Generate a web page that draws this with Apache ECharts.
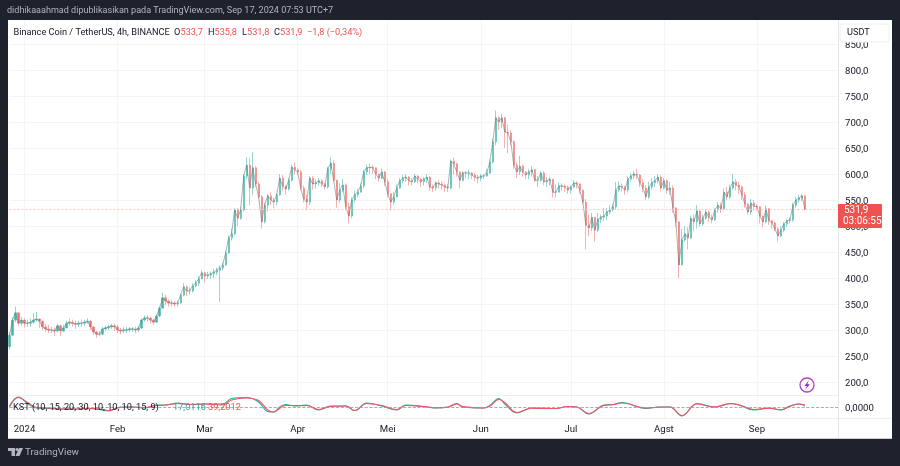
<!DOCTYPE html>
<html><head><meta charset="utf-8">
<style>html,body{margin:0;padding:0;background:#1e222d}#c{width:900px;height:466px;filter:blur(0.3px)}</style>
<script src="https://cdn.jsdelivr.net/npm/echarts@6/dist/echarts.min.js"></script>
</head><body><div id="c"></div>
<script>
const firstOpen = 268;
const closes = [
290,319,333,313,319,313,313,315,319,321,
317,306,302,300,300,298,308,298,304,313,
315,313,311,313,313,315,317,306,296,292,
292,302,304,306,308,306,300,298,300,300,
302,302,300,304,319,323,323,319,315,327,
342,362,356,352,352,350,352,367,383,375,
375,385,390,398,410,404,406,408,411,415,
419,425,448,477,485,531,515,531,596,617,
573,612,581,556,508,540,558,550,546,560,
592,577,571,588,613,608,604,573,552,546,
592,581,583,587,581,575,610,621,588,550,
569,579,537,519,550,560,565,577,604,612,
613,612,600,592,604,585,562,546,556,573,
587,592,594,587,585,596,590,585,590,594,
575,573,583,581,579,575,573,625,619,604,
588,602,602,602,598,594,592,596,596,602,
623,662,708,700,708,681,679,662,617,604,
615,604,598,604,608,588,588,602,585,587,
590,565,565,577,577,575,569,575,583,581,
569,546,502,496,517,492,513,517,519,527,
531,537,569,577,575,569,590,596,600,598,
583,573,556,575,583,587,594,573,587,569,
573,535,508,425,473,485,477,515,508,529,
504,515,527,517,512,531,540,533,565,556,
573,585,579,575,560,542,527,544,538,537,
519,508,533,510,506,494,481,492,504,510,
512,540,550,554,558,531.9];
const highs = [
295,325,345,330,325,322,320,322,333,335,
323,318,312,310,306,305,312,310,310,318,
322,320,318,318,320,320,323,320,308,298,
298,306,308,310,312,312,310,304,306,306,
306,306,306,308,322,328,328,326,322,330,
345,372,368,358,358,356,356,370,390,386,
382,390,396,403,415,412,412,413,418,420,
424,430,452,482,495,535,535,537,600,632,
630,642,615,585,560,545,562,565,555,563,
600,598,578,592,618,622,612,608,578,560,
596,596,590,592,590,583,614,632,626,575,
582,590,582,545,555,568,572,582,608,618,
620,618,612,600,610,606,590,560,565,580,
592,598,600,596,592,600,598,592,594,600,
596,580,586,588,586,582,580,628,632,622,
606,606,606,608,604,602,598,600,600,610,
628,668,722,712,716,710,695,684,665,622,
635,618,606,610,615,610,596,606,606,594,
595,590,580,584,582,580,578,578,588,586,
582,570,552,522,525,510,525,522,535,535,
540,542,585,586,582,578,595,602,606,610,
600,590,578,585,592,596,600,598,592,590,
585,578,512,470,495,500,498,520,522,540,
530,522,532,530,522,535,546,545,572,575,
580,600,590,585,578,565,545,552,550,542,
535,520,540,535,512,508,498,500,508,514,
516,545,556,560,562,560];
const lows = [
262,288,315,308,308,305,306,306,312,316,
304,300,296,294,294,288,296,288,296,304,
308,306,302,306,306,308,312,300,290,285,
288,290,298,300,302,298,294,292,294,294,
296,296,294,296,302,316,316,312,310,314,
325,342,348,345,345,345,345,350,365,365,
368,372,382,385,398,392,398,398,400,405,
354,415,424,446,472,482,500,512,528,590,
540,560,575,552,495,505,528,540,535,540,
558,568,560,568,585,598,598,568,545,530,
540,570,572,578,575,570,572,600,585,535,
545,565,530,505,515,545,555,565,572,598,
600,600,590,585,590,578,555,530,542,555,
572,582,585,578,578,582,582,575,578,582,
568,565,568,572,570,566,565,570,598,595,
572,585,592,590,590,586,582,586,590,595,
600,620,655,685,688,650,640,655,610,592,
598,595,590,590,595,585,575,585,578,575,
578,555,555,565,568,566,562,562,572,572,
562,542,455,480,490,470,488,505,510,512,
522,528,532,565,566,560,565,585,590,590,
575,565,550,552,570,575,582,568,570,562,
560,525,498,400,425,470,455,475,490,495,
498,500,512,508,505,510,525,525,530,550,
552,570,568,562,550,535,522,522,530,530,
505,498,505,502,495,490,470,478,488,498,
505,508,535,545,548,530];
const kstDays = [0,3,6,9,13,17,22,27,30,33,37,41,45,49,52,56,60,65,71,74,79,83,86,88,90,92,95,97,99,103,107,112,115,119,124,129,132,139,142,146,149,151,158,160,163,165,169,174,182,186,189,193,198,201,204,212,216,220,224,229,235,240,243,248,253,257,260,263,265];
const kstValues = [20,200,70,-20,-30,-40,-40,-30,-50,-80,0,0,-20,40,40,80,50,60,60,170,190,100,-90,-100,0,50,20,30,40,-60,20,20,-70,80,20,-60,40,0,-20,0,70,0,-20,30,170,60,-120,-20,-30,10,0,-140,40,50,90,-30,0,0,-180,70,0,70,40,-60,-20,-60,20,60,17.0116];
const signalValues = [0,190,90,-10,-20,-40,-40,-30,-40,-70,-10,0,-10,30,40,70,50,60,40,140,180,130,-60,-100,-30,30,30,25,30,-50,10,20,-70,70,30,-50,30,5,-15,-5,60,10,-20,15,150,90,-110,-25,-30,10,0,-130,30,45,80,-20,-5,0,-170,60,0,65,45,-50,-25,-55,15,60,39.2012];
const priceTicks = [200,250,300,350,400,450,500,550,600,650,700,750,800,850];
const monthDates = ['2024-01-01','2024-02-01','2024-03-01','2024-04-01','2024-05-01','2024-06-01','2024-07-01','2024-08-01','2024-09-01'];
const monthLabels = ['2024','Feb','Mar','Apr','Mei','Jun','Jul','Agst','Sep'];
const lastPrice = 531.9;

const categories = [];
for (let t = Date.UTC(2023,11,27), n = 0; n < 277; n++, t += 86400000) categories.push(new Date(t).toISOString().slice(0,10));
const candles = closes.map((c,i)=>[i===0?firstOpen:closes[i-1], c, lows[i], highs[i]]);
const FONT = 'Roboto, "Noto Sans", sans-serif';
const isMonth = (i,v)=>monthDates.includes(v);
const grid1 = {left:9.5,top:20,width:828.5,height:375};
const grid2 = {left:9.5,top:395,width:828.5,height:23};
const comma = (v,d)=>v.toFixed(d).replace('.',',');
const faint = '#f2f4f9';
const txt = (x,y,text,fill,extra)=>({type:'text',x,y,z:100,style:Object.assign({text,fill,font:'9.2px '+FONT,textVerticalAlign:'middle'},extra||{})});

const chart = echarts.init(document.getElementById('c'),null,{renderer:'canvas'});
chart.setOption({
  animation:false,
  backgroundColor:'#1e222d',
  grid:[grid1,grid2],
  xAxis:[
    {type:'category',gridIndex:0,data:categories,boundaryGap:false,axisLine:{show:false},axisTick:{show:false},axisLabel:{show:false},
     splitLine:{show:true,interval:isMonth,lineStyle:{color:faint,width:1}}},
    {type:'category',gridIndex:1,data:categories,boundaryGap:false,axisLine:{show:false},axisTick:{show:false},
     axisLabel:{show:true,interval:isMonth,formatter:v=>monthLabels[monthDates.indexOf(v)],color:'#131722',fontFamily:FONT,fontSize:9.6,margin:7,
       hideOverlap:false},
     splitLine:{show:true,interval:isMonth,lineStyle:{color:faint,width:1}}}
  ],
  yAxis:[
    {type:'value',gridIndex:0,position:'right',min:175,max:896.15,axisLine:{show:false},axisTick:{show:false,customValues:priceTicks},
     axisLabel:{customValues:priceTicks,formatter:v=>comma(v,1),color:'#131722',fontFamily:FONT,fontSize:9.6,margin:7,verticalAlign:'top',lineHeight:3},
     splitLine:{show:true,lineStyle:{color:faint,width:1}}},
    {type:'value',gridIndex:1,position:'right',min:-220,max:240,axisLine:{show:false},axisTick:{show:false,customValues:[0]},
     axisLabel:{customValues:[0],formatter:v=>comma(v,4),color:'#131722',fontFamily:FONT,fontSize:9.6,margin:7,verticalAlign:'top',lineHeight:3},
     splitLine:{show:false}}
  ],
  series:[
    {type:'candlestick',xAxisIndex:0,yAxisIndex:0,data:candles,barWidth:1.7,clip:true,
     itemStyle:{color:'#26a69a',color0:'#ef5350',borderColor:'#4fb8ae',borderColor0:'#f37f7c',borderWidth:0.7,opacity:0.85},
     markLine:{silent:true,symbol:'none',label:{show:false},animation:false,
       lineStyle:{color:'#f9c6c4',type:[2,2],width:1,opacity:1},data:[{yAxis:lastPrice}]}},
    {type:'line',name:'close',xAxisIndex:0,yAxisIndex:0,data:closes,showSymbol:false,z:3,
     lineStyle:{color:'#6f7f82',width:0.8,opacity:0.75}},
    {type:'line',xAxisIndex:1,yAxisIndex:1,data:kstDays.map((d,i)=>[d,kstValues[i]]),smooth:0.4,showSymbol:false,
     lineStyle:{color:'#26a69a',width:1.1},
     markLine:{silent:true,symbol:'none',label:{show:false},animation:false,
       lineStyle:{color:'#9598a1',type:'dashed',width:0.8},data:[{yAxis:0}]}},
    {type:'line',xAxisIndex:1,yAxisIndex:1,data:kstDays.map((d,i)=>[d,signalValues[i]]),smooth:0.4,showSymbol:false,
     lineStyle:{color:'#f7525f',width:1.1}}
  ],
  graphic:{elements:[
    {type:'rect',z:-10,shape:{x:8,y:20,width:884,height:418},style:{fill:'#ffffff'}},
    {type:'line',z:1,shape:{x1:8,y1:438.5,x2:892,y2:438.5},style:{stroke:'#c9ccd3',lineWidth:1}},
    {type:'line',z:1,shape:{x1:8,y1:395.5,x2:838,y2:395.5},style:{stroke:'#eceef3',lineWidth:1}},
    {type:'line',z:1,shape:{x1:8,y1:418.5,x2:892,y2:418.5},style:{stroke:'#eceef3',lineWidth:1}},
    {type:'line',z:1,shape:{x1:838.5,y1:20,x2:838.5,y2:438},style:{stroke:'#e4e6ec',lineWidth:1}},
    txt(7,11,'didhikaaahmad dipublikasikan pada TradingView.com, Sep 17, 2024 07:53 UTC+7','#b2b5be',{font:'9.05px '+FONT}),
    txt(13.5,32.5,'Binance Coin / TetherUS, 4h, BINANCE','#131722'),
    txt(174,32.5,'O','#131722'),txt(180.5,32.5,'533,7','#ef5350'),
    txt(208,32.5,'H','#131722'),txt(214.5,32.5,'535,8','#ef5350'),
    txt(242,32.5,'L','#131722'),txt(247,32.5,'531,8','#ef5350'),
    txt(274,32.5,'C','#131722'),txt(280,32.5,'531,9','#ef5350'),
    txt(307,32.5,'\u22121,8 (\u22120,34%)','#ef5350'),
    txt(13,407.5,'KST (10, 15, 20, 30, 10, 10, 10, 15, 9)','#131722'),
    txt(173,407.5,'17,0116','#26a69a'),txt(208,407.5,'39,2012','#ef5350'),
    {type:'rect',z:100,shape:{x:840,y:24,width:49,height:18,r:3},style:{fill:'#ffffff',stroke:'#eef0f4',lineWidth:1}},
    txt(847,33,'USDT','#131722'),
    {type:'rect',z:100,shape:{x:838,y:204,width:44,height:24,r:1},style:{fill:'#ef5350'}},
    txt(844,210,'531,9','#ffffff',{font:'10px '+FONT}),
    txt(843,221,'03:06:55','#ffffff',{font:'10px '+FONT}),
    {type:'circle',z:100,shape:{cx:807,cy:385,r:7},style:{fill:'#ffffff',stroke:'#ab47bc',lineWidth:1.3}},
    {type:'polygon',z:101,shape:{points:[[809,380],[804.5,386],[807,386],[805,390],[809.8,384.2],[807.2,384.2]]},style:{fill:'#8e24aa'}},
    {type:'polygon',z:100,shape:{points:[[8,448],[15,448],[15,456],[11.5,456],[11.5,451],[8,451]]},style:{fill:'#b2b5be'}},
    {type:'circle',z:100,shape:{cx:17,cy:449.5,r:1.6},style:{fill:'#b2b5be'}},
    {type:'polygon',z:100,shape:{points:[[19,448],[23,448],[19.5,456],[15.5,456]]},style:{fill:'#b2b5be'}},
    txt(25,453,'TradingView','#b2b5be',{font:'9.8px '+FONT})
  ]}
});
</script></body></html>
